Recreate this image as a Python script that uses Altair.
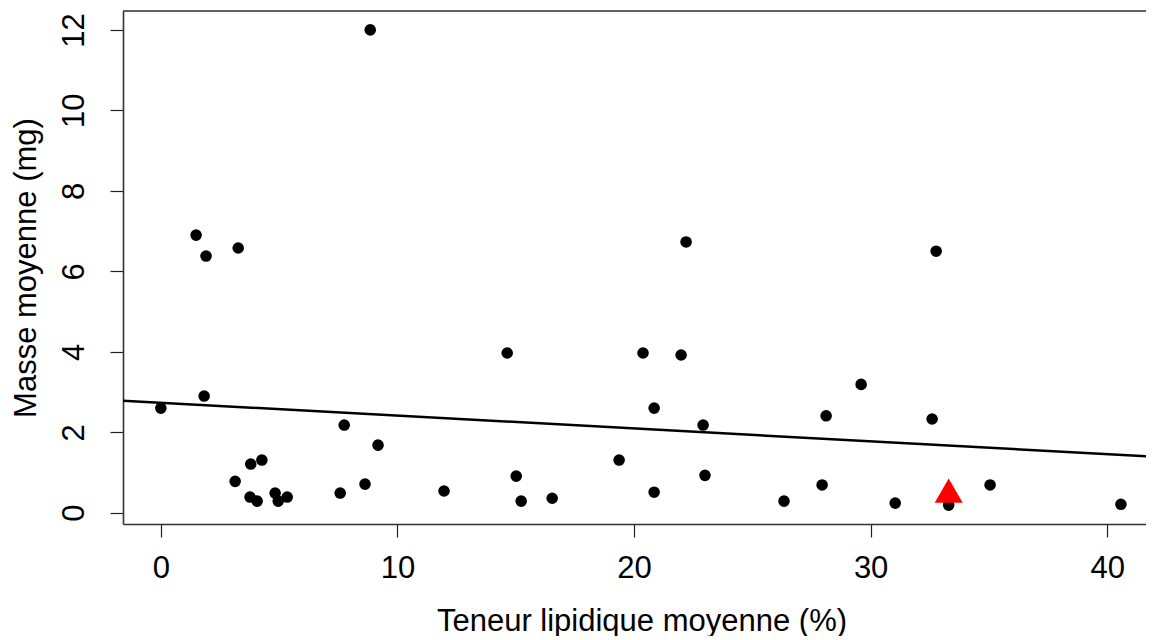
import altair as alt
import pandas as pd

# ---- data ----
lipid_pct = [0.00, 1.49, 1.91, 1.83, 3.27, 3.14, 3.80, 4.27, 3.77, 4.07, 4.83, 4.96, 5.34,
             7.58, 7.75, 8.63, 8.85, 9.18, 11.97, 14.64, 15.02, 15.23, 16.54, 19.37,
             20.38, 20.85, 20.85, 21.99, 22.20, 22.92, 23.00, 26.34, 27.95, 28.12,
             29.60, 31.04, 32.60, 32.77, 33.30, 35.05, 40.58]
mass_mg = [2.60, 6.90, 6.38, 2.90, 6.58, 0.78, 1.21, 1.31, 0.39, 0.29, 0.49, 0.29, 0.39,
           0.49, 2.18, 0.71, 12.00, 1.68, 0.54, 3.97, 0.91, 0.29, 0.36, 1.31,
           3.97, 2.60, 0.51, 3.92, 6.73, 2.18, 0.93, 0.29, 0.69, 2.41,
           3.19, 0.24, 2.33, 6.50, 0.19, 0.69, 0.21]
highlight_x = [33.30]
highlight_y = [0.55]

x_ticks = [0, 10, 20, 30, 40]
y_ticks = [0, 2, 4, 6, 8, 10, 12]

X_DOMAIN = [-1.60, 41.64]
Y_DOMAIN = [-0.28, 12.47]

W, H = 1023, 513
FONT = "Liberation Sans"
FS_TICK = 31
FS_TITLE = 31

pts = pd.DataFrame({"x": lipid_pct, "y": mass_mg})
hi = pd.DataFrame({"x": highlight_x, "y": highlight_y})
allpts = pd.concat([pts, hi], ignore_index=True)

xs = alt.Scale(domain=X_DOMAIN, nice=False, zero=False)
ys = alt.Scale(domain=Y_DOMAIN, nice=False, zero=False)

xaxis = alt.Axis(
    values=x_ticks, format="d", grid=False,
    title="Teneur lipidique moyenne (%)",
    tickSize=13, tickColor="#222222", tickWidth=1.2,
    domainColor="#333333", domainWidth=1.6,
    labelFont=FONT, labelFontSize=FS_TICK, labelColor="black",
    labelPadding=40, labelBaseline="alphabetic", labelFlush=False, labelOverlap=False,
    titleFont=FONT, titleFontSize=FS_TITLE, titleFontWeight="normal", titleColor="black",
    titleX=518.5, titleY=106, titleBaseline="alphabetic", titleAlign="center",
)
yaxis = alt.Axis(
    values=y_ticks, format="d", grid=False,
    title="Masse moyenne (mg)",
    tickSize=13, tickColor="#222222", tickWidth=1.2,
    domainColor="#333333", domainWidth=1.6,
    labelFont=FONT, labelFontSize=FS_TICK, labelColor="black",
    labelAngle=270, labelAlign="center", labelBaseline="alphabetic",
    labelPadding=27, labelFlush=False, labelOverlap=False,
    titleFont=FONT, titleFontSize=FS_TITLE, titleFontWeight="normal", titleColor="black",
    titleAngle=270, titleX=-88, titleY=H / 2, titleBaseline="alphabetic", titleAlign="center",
)

x_enc = alt.X("x:Q", scale=xs, axis=xaxis)
y_enc = alt.Y("y:Q", scale=ys, axis=yaxis)

dots = alt.Chart(pts).mark_circle(size=135, color="black", opacity=1).encode(x=x_enc, y=y_enc)

tri = alt.Chart(hi).mark_point(
    shape="triangle-up", filled=True, size=784, color="#FF0000", opacity=1
).encode(x=x_enc, y=y_enc)

fit = alt.Chart(allpts).transform_regression(
    "x", "y", extent=X_DOMAIN
).mark_line(color="black", strokeWidth=2.5, clip=True).encode(x=x_enc, y=y_enc)

top_border = alt.Chart(pd.DataFrame({"k": [0]})).mark_rule(
    color="#333333", strokeWidth=1.6
).encode(x=alt.value(0), x2=alt.value(W), y=alt.value(0))

chart = alt.layer(fit, dots, tri, top_border).properties(
    width=W, height=H,
    padding={"left": 115, "top": 3, "right": 0, "bottom": 112},
    autosize=alt.AutoSizeParams(type="none"),
).configure_view(stroke=None).configure(background="white")

chart.save("out.html", embed_options={"renderer": "svg", "actions": False})
